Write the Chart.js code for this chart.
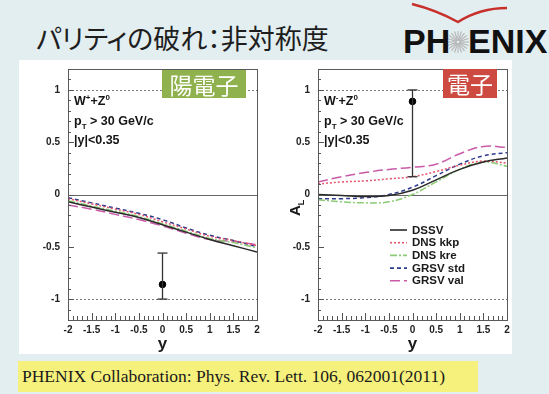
<!DOCTYPE html>
<html>
<head>
<meta charset="utf-8">
<script src="https://cdn.jsdelivr.net/npm/chart.js@4"></script>
<style>
html,body{margin:0;padding:0}
body{width:549px;height:394px;overflow:hidden;position:relative;background:#e3eef1;font-family:"Liberation Sans",Arial,sans-serif}
#panel{position:absolute;left:19px;top:60px;width:493px;height:294px;background:#fff}
#title{position:absolute;left:36px;top:18px;font:27px "Noto Sans CJK JP";color:#1e1e1e;white-space:nowrap;font-feature-settings:"palt"}
#logo{position:absolute;left:400px;top:0;width:149px;height:60px}
.cv{position:absolute;top:55px;width:245px;height:300px}
.badge{position:absolute;color:#fff;font:23px/29px "Noto Sans CJK JP";text-align:center}
.note{position:absolute;font:bold 12.5px "Liberation Sans",Arial,sans-serif;color:#151515;line-height:19.5px;white-space:nowrap}
.note sup,.note sub{font-size:8px;line-height:0}
#cite{position:absolute;left:18px;top:361px;width:460px;height:31px;background:#f6f17c;font:17.5px/31px "Liberation Serif","Times New Roman",serif;color:#1a1a1a;padding-left:4px;box-sizing:border-box;white-space:nowrap}
</style>
</head>
<body>
<div id="panel"></div>
<div id="title">パリティの破れ：非対称度</div>
<svg id="logo" viewBox="0 0 149 60">
  <path d="M12,4 Q36,10 58,22 Q80,8 107,8" fill="none" stroke="#c8302c" stroke-width="2.5"/>
  <g stroke="#b4b4b4" stroke-width="1.1" id="star"></g>
  <text x="3" y="53" font-family="Liberation Sans" font-weight="bold" font-size="34" fill="#111">PH</text>
  <text x="68" y="53" font-family="Liberation Sans" font-weight="bold" font-size="34" fill="#111">ENIX</text>
</svg>

<canvas id="cPos" class="cv" width="245" height="300" style="left:20px"></canvas>
<canvas id="cNeg" class="cv" width="245" height="300" style="left:270px"></canvas>

<div class="badge" style="left:162px;top:70px;width:84px;height:28px;background:#8fb14e">陽電子</div>
<div class="badge" style="left:443px;top:69px;width:54px;height:29px;background:#cc4a40">電子</div>

<div class="note" style="left:74px;top:92px">W<sup>+</sup>+Z<sup>0</sup><br>p<sub>T</sub> &gt; 30 GeV/c<br>|y|&lt;0.35</div>
<div class="note" style="left:324px;top:92px">W<sup>-</sup>+Z<sup>0</sup><br>p<sub>T</sub> &gt; 30 GeV/c<br>|y|&lt;0.35</div>

<div id="cite">PHENIX Collaboration: Phys. Rev. Lett. 106, 062001(2011)</div>

<script>
// rapidity grid of the theory curves
const rapidity = [-2, -1.5, -1, -0.5, 0, 0.5, 1, 1.5, 2];
const seriesNames = ['DSSV', 'DNS kkp', 'DNS kre', 'GRSV std', 'GRSV val'];

// W+ -> e+ asymmetry predictions
const posDSSV    = [-0.07, -0.12, -0.17, -0.22, -0.29, -0.36, -0.43, -0.49, -0.55];
const posDNSkkp  = [-0.04, -0.09, -0.14, -0.19, -0.26, -0.33, -0.40, -0.44, -0.49];
const posDNSkre  = [-0.06, -0.11, -0.16, -0.21, -0.28, -0.35, -0.42, -0.46, -0.51];
const posGRSVstd = [-0.03, -0.08, -0.13, -0.18, -0.24, -0.32, -0.39, -0.44, -0.50];
const posGRSVval = [-0.10, -0.14, -0.19, -0.24, -0.30, -0.37, -0.43, -0.45, -0.48];

// W- -> e- asymmetry predictions
const negDSSV    = [0.00, -0.01, -0.02, -0.01, 0.04, 0.14, 0.24, 0.31, 0.35];
const negDNSkkp  = [0.10, 0.12, 0.13, 0.15, 0.17, 0.22, 0.28, 0.32, 0.30];
const negDNSkre  = [-0.05, -0.07, -0.08, -0.07, 0.00, 0.12, 0.24, 0.31, 0.27];
const negGRSVstd = [-0.04, -0.04, -0.03, 0.00, 0.07, 0.18, 0.29, 0.37, 0.40];
const negGRSVval = [0.12, 0.17, 0.21, 0.24, 0.26, 0.29, 0.39, 0.46, 0.45];

// measured points (|y|<0.35) with asymmetric errors
const measY      = [0];
const posAL      = [-0.86];
const posErrUp   = [0.30];
const posErrDown = [0.14];
const negAL      = [0.89];
const negErrUp   = [0.11];
const negErrDown = [0.72];

const xTicks = [-2, -1.5, -1, -0.5, 0, 0.5, 1, 1.5, 2];
const yTicks = [-1, -0.5, 0, 0.5, 1];
const dottedRefs = [-1, 1];

const curveStyles = [
  {color: '#2a2a2a', dash: []},
  {color: '#e4546c', dash: [2, 2]},
  {color: '#8ccc74', dash: [7, 2, 2, 2]},
  {color: '#2d3b8c', dash: [4, 3]},
  {color: '#c95aa8', dash: [10, 4]}
];

// starburst of the logo
(function () {
  const g = document.getElementById('star');
  const cx = 58, cy = 42;
  for (let k = 0; k < 20; k++) {
    const a = k * Math.PI / 10;
    const l = document.createElementNS('http://www.w3.org/2000/svg', 'line');
    l.setAttribute('x1', cx + 1.5 * Math.cos(a)); l.setAttribute('y1', cy + 1.5 * Math.sin(a));
    l.setAttribute('x2', cx + 11 * Math.cos(a)); l.setAttribute('y2', cy + 11 * Math.sin(a));
    g.appendChild(l);
  }
})();

function seg(ctx, x1, y1, x2, y2) {
  ctx.beginPath(); ctx.moveTo(x1, y1); ctx.lineTo(x2, y2); ctx.stroke();
}

const framePlugin = {
  id: 'frame',
  beforeDatasetsDraw(chart) {
    const {ctx, chartArea: a, scales: {y}} = chart;
    ctx.save();
    ctx.strokeStyle = '#7a7a7a';
    ctx.lineWidth = 1;
    ctx.setLineDash([2, 2]);
    dottedRefs.forEach(v => {
      const py = Math.round(y.getPixelForValue(v)) + 0.5;
      seg(ctx, a.left, py, a.right, py);
    });
    ctx.setLineDash([]);
    ctx.strokeStyle = '#666';
    const p0 = Math.round(y.getPixelForValue(0)) + 0.5;
    seg(ctx, a.left, p0, a.right, p0);
    ctx.restore();
  },
  afterDatasetsDraw(chart, args, opts) {
    const {ctx, chartArea: a, scales: {x, y}} = chart;
    ctx.save();
    // error bars of the measurement
    ctx.strokeStyle = '#333';
    ctx.lineWidth = 1.3;
    opts.meas.val.forEach((v, i) => {
      const px = x.getPixelForValue(measY[i]);
      const top = y.getPixelForValue(v + opts.meas.up[i]);
      const bot = y.getPixelForValue(v - opts.meas.down[i]);
      seg(ctx, px, top, px, bot);
      seg(ctx, px - 5, top, px + 5, top);
      seg(ctx, px - 5, bot, px + 5, bot);
    });
    // frame
    ctx.strokeStyle = '#5a5a5a';
    ctx.lineWidth = 1;
    ctx.strokeRect(Math.round(a.left) + 0.5, Math.round(a.top) + 0.5,
                   Math.round(a.right - a.left), Math.round(a.bottom - a.top));
    // inward tick marks: majors every 0.5, minors every 0.1
    ctx.strokeStyle = '#555';
    for (let k = -12; k <= 12; k++) {
      const v = k / 10;
      const py = Math.round(y.getPixelForValue(v)) + 0.5;
      const len = (k % 5 === 0) ? 6 : 3;
      seg(ctx, a.left, py, a.left + len, py);
    }
    for (let k = -20; k <= 20; k++) {
      const v = k / 10;
      const px = Math.round(x.getPixelForValue(v)) + 0.5;
      const len = (k % 5 === 0) ? 7 : 4;
      seg(ctx, px, a.bottom, px, a.bottom - len);
    }
    // legend
    if (opts.legend) {
      chart.data.datasets.forEach((ds, i) => {
        if (i >= seriesNames.length) return;
        const ry = 175 + i * 12.7;
        ctx.strokeStyle = ds.borderColor;
        ctx.lineWidth = 1.6;
        ctx.setLineDash(ds.borderDash);
        seg(ctx, 120, ry, 137, ry);
        ctx.setLineDash([]);
        ctx.fillStyle = '#1a1a1a';
        ctx.font = 'bold 11.5px "Liberation Sans", Arial, sans-serif';
        ctx.textBaseline = 'middle';
        ctx.fillText(ds.label, 142, ry + 0.5);
      });
    }
    // vertical axis label A_L
    if (opts.ylabel) {
      ctx.translate(25, 161);
      ctx.rotate(-Math.PI / 2);
      ctx.fillStyle = '#1a1a1a';
      ctx.textBaseline = 'alphabetic';
      ctx.font = 'bold 15px "Liberation Sans", Arial, sans-serif';
      ctx.fillText('A', 0, 5);
      ctx.font = 'bold 9.5px "Liberation Sans", Arial, sans-serif';
      ctx.fillText('L', 10.5, 9);
    }
    ctx.restore();
  }
};

const tickFont = {family: '"Liberation Sans", Arial, sans-serif', size: 10, weight: 'bold'};

function makeChart(id, curves, meas, withLegend, withYLabel) {
  const datasets = curves.map((ys, i) => ({
    label: seriesNames[i],
    data: rapidity.map((r, j) => ({x: r, y: ys[j]})),
    borderColor: curveStyles[i].color,
    borderDash: curveStyles[i].dash,
    borderWidth: 1.5,
    pointRadius: 0,
    tension: 0.4,
    fill: false
  }));
  datasets.push({
    type: 'scatter',
    label: 'PHENIX',
    data: measY.map((r, j) => ({x: r, y: meas.val[j]})),
    pointRadius: 3.3,
    backgroundColor: '#000',
    borderColor: '#000'
  });
  return new Chart(document.getElementById(id), {
    type: 'line',
    data: {datasets},
    options: {
      responsive: false,
      animation: false,
      events: [],
      layout: {padding: {top: 6, right: 8, left: 0, bottom: 0}},
      plugins: {
        legend: {display: false},
        tooltip: {enabled: false},
        frame: {legend: withLegend, ylabel: withYLabel, meas}
      },
      scales: {
        x: {
          type: 'linear', min: -2, max: 2,
          grid: {display: false, drawTicks: false},
          border: {display: false},
          afterBuildTicks: s => { s.ticks = xTicks.map(v => ({value: v})); },
          afterFit: s => { s.height = 35; },
          ticks: {padding: 4, font: tickFont, color: '#222', maxRotation: 0, autoSkip: false,
                  callback: v => String(v)},
          title: {display: true, text: 'y', color: '#1a1a1a', padding: 0,
                  font: {family: '"Liberation Sans", Arial, sans-serif', size: 17, weight: 'bold'}}
        },
        y: {
          type: 'linear', min: -1.2, max: 1.2,
          grid: {display: false, drawTicks: false},
          border: {display: false},
          afterBuildTicks: s => { s.ticks = yTicks.map(v => ({value: v})); },
          afterFit: s => { s.width = 48; },
          ticks: {padding: 8, font: tickFont, color: '#222', autoSkip: false,
                  callback: v => String(v)}
        }
      }
    },
    plugins: [framePlugin]
  });
}

makeChart('cPos', [posDSSV, posDNSkkp, posDNSkre, posGRSVstd, posGRSVval],
          {val: posAL, up: posErrUp, down: posErrDown}, false, false);
makeChart('cNeg', [negDSSV, negDNSkkp, negDNSkre, negGRSVstd, negGRSVval],
          {val: negAL, up: negErrUp, down: negErrDown}, true, true);
</script>
</body>
</html>
